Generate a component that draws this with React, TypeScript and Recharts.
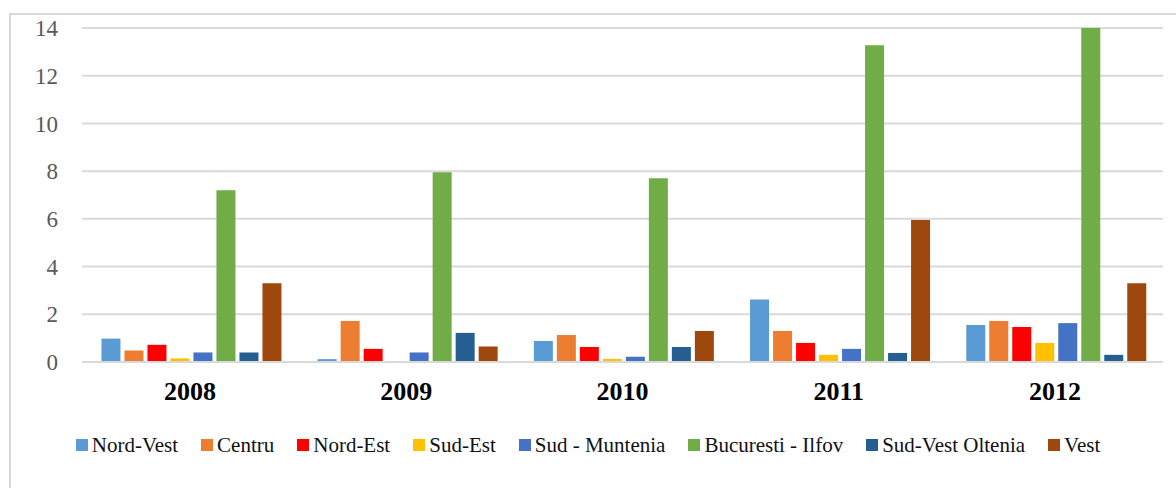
import React from 'react';
import { BarChart, Bar, XAxis, YAxis, CartesianGrid, Legend } from 'recharts';

const years = ['2008', '2009', '2010', '2011', '2012'];

const nordVest = [0.98, 0.12, 0.88, 2.62, 1.55];
const centru = [0.48, 1.72, 1.13, 1.3, 1.72];
const nordEst = [0.72, 0.55, 0.63, 0.8, 1.47];
const sudEst = [0.15, 0, 0.13, 0.3, 0.8];
const sudMuntenia = [0.4, 0.4, 0.22, 0.55, 1.63];
const bucurestiIlfov = [7.2, 7.95, 7.7, 13.28, 14];
const sudVestOltenia = [0.4, 1.22, 0.63, 0.38, 0.3];
const vest = [3.3, 0.65, 1.3, 5.95, 3.3];

const yTicks = [0, 2, 4, 6, 8, 10, 12, 14];

const series = [
  { key: 'nv', name: 'Nord-Vest', values: nordVest, color: '#5B9BD5' },
  { key: 'c', name: 'Centru', values: centru, color: '#ED7D31' },
  { key: 'ne', name: 'Nord-Est', values: nordEst, color: '#FF0000' },
  { key: 'se', name: 'Sud-Est', values: sudEst, color: '#FFC000' },
  { key: 'sm', name: 'Sud - Muntenia', values: sudMuntenia, color: '#4472C4' },
  { key: 'bi', name: 'Bucuresti - Ilfov', values: bucurestiIlfov, color: '#70AD47' },
  { key: 'svo', name: 'Sud-Vest Oltenia', values: sudVestOltenia, color: '#255E91' },
  { key: 'v', name: 'Vest', values: vest, color: '#9E480E' },
];

const data = years.map((year, i) => {
  const row: Record<string, string | number> = { year };
  series.forEach((s) => {
    row[s.key] = s.values[i];
  });
  return row;
});

const FONT = "'Liberation Serif', 'Times New Roman', serif";

function LegendContent() {
  return (
    <div
      style={{
        display: 'flex',
        justifyContent: 'center',
        alignItems: 'center',
        gap: 23,
        height: 30,
      }}
    >
      {series.map((s) => (
        <div key={s.key} style={{ display: 'flex', alignItems: 'center' }}>
          <span
            style={{ display: 'inline-block', width: 12, height: 12, background: s.color, marginRight: 4 }}
          />
          <span style={{ fontFamily: FONT, fontSize: 21, color: '#111', lineHeight: '30px' }}>
            {s.name}
          </span>
        </div>
      ))}
    </div>
  );
}

export default function App() {
  return (
    <div
      style={{
        position: 'fixed',
        top: 0,
        left: 0,
        width: 1176,
        height: 488,
        background: '#fff',
        overflow: 'hidden',
      }}
    >
      <div
        style={{
          position: 'absolute',
          left: 9,
          top: 13,
          width: 1200,
          height: 500,
          border: '2px solid #d9d9d9',
        }}
      />
      <div style={{ position: 'absolute', left: 0, top: 0 }}>
        <BarChart
          width={1176}
          height={488}
          data={data}
          margin={{ top: 28, right: 13, left: 0, bottom: 56 }}
          barCategoryGap="9%"
          barGap={4}
        >
          <CartesianGrid vertical={false} stroke="#d9d9d9" strokeWidth={2} />
          <XAxis
            dataKey="year"
            height={40}
            tickLine={false}
            tickSize={0}
            tickMargin={20}
            axisLine={{ stroke: '#d9d9d9', strokeWidth: 2 }}
            tick={{ fontFamily: FONT, fontSize: 26, fontWeight: 'bold', fill: '#000' }}
          />
          <YAxis
            width={82}
            domain={[0, 14]}
            ticks={yTicks}
            interval={0}
            axisLine={false}
            tickLine={false}
            tickSize={0}
            tickMargin={24}
            tick={{ fontFamily: FONT, fontSize: 23, fill: '#595959' }}
          />
          <Legend
            content={<LegendContent />}
            wrapperStyle={{ top: 430, left: 0, width: 1176, height: 30 }}
          />
          {series.map((s) => (
            <Bar
              key={s.key}
              dataKey={s.key}
              name={s.name}
              fill={s.color}
              isAnimationActive={false}
            />
          ))}
        </BarChart>
      </div>
    </div>
  );
}
